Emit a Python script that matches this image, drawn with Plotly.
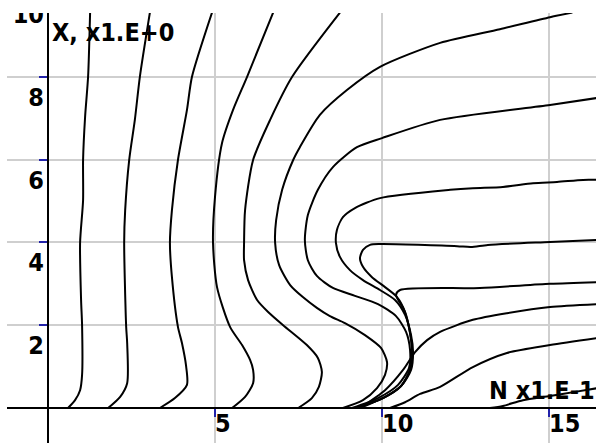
import plotly.graph_objects as go

# ---- trajectory family (N in units of 1e1, X in units of 1e0) ----
a_n = [0.60, 0.81, 0.96, 1.02, 1.02, 0.99, 0.96, 1.05, 1.05, 1.11, 1.20, 1.26]
a_x = [0.00, 0.19, 0.43, 0.80, 2.00, 2.61, 3.99, 5.02, 5.99, 7.03, 8.00, 9.55]

b_n = [1.80, 2.16, 2.37, 2.37, 2.34, 2.28, 2.31, 2.43, 2.60, 2.75, 3.05]
b_x = [0.00, 0.27, 0.60, 1.57, 1.96, 3.99, 4.78, 5.99, 6.96, 8.00, 9.55]

c_n = [3.35, 3.80, 4.16, 4.13, 4.01, 3.89, 3.71, 3.65, 3.71, 3.89, 4.16, 4.31, 4.91]
c_x = [0.00, 0.24, 0.56, 1.04, 1.57, 1.96, 3.16, 3.99, 4.78, 5.99, 7.20, 8.00, 9.55]

d_n = [5.51, 5.90, 6.14, 6.14, 6.05, 5.81, 5.45, 5.06, 4.94, 5.00, 5.21, 5.54, 5.96, 6.74]
d_x = [0.00, 0.27, 0.60, 0.92, 1.16, 1.52, 1.96, 2.92, 3.99, 5.10, 6.40, 7.20, 8.00, 9.55]

e_n = [7.49, 7.90, 8.11, 8.20, 8.08, 7.75, 7.04, 6.59, 6.26, 5.99, 5.87, 5.87, 5.90, 6.14,
       6.65, 7.31, 8.74]
e_x = [0.00, 0.24, 0.51, 0.87, 1.21, 1.52, 2.00, 2.32, 2.61, 3.09, 3.57, 3.99, 4.78, 5.99,
       6.96, 8.00, 9.55]

f_n = [8.83, 9.43, 9.85, 10.09, 10.15, 9.97, 9.49, 8.89, 8.44, 8.05, 7.63, 7.25, 6.92, 6.80,
       6.83, 7.01, 7.34, 7.54, 8.14, 8.95, 9.94, 11.74, 13.53, 15.03, 15.70]
f_x = [0.00, 0.19, 0.48, 0.80, 1.11, 1.45, 1.76, 2.05, 2.22, 2.42, 2.68, 2.97, 3.45, 3.99,
       4.54, 5.27, 5.99, 6.30, 7.08, 7.68, 8.24, 8.82, 9.15, 9.44, 9.55]

g_n = [16.45, 15.03, 11.74, 10.00, 9.25, 8.53, 8.08, 7.78, 7.69, 7.78, 8.05, 8.53, 9.19, 9.88,
       10.42, 10.72, 10.84, 10.81, 10.48, 9.88, 9.10]
g_x = [7.49, 7.32, 6.96, 6.52, 6.30, 5.82, 5.27, 4.66, 4.06, 3.57, 3.19, 2.90, 2.71, 2.51,
       2.22, 1.84, 1.40, 0.97, 0.56, 0.24, 0.00]

h_n = [16.45, 16.02, 15.24, 14.52, 13.62, 12.72, 12.04, 9.94, 9.19, 8.83, 8.65, 8.62, 8.74,
       9.04, 9.43, 9.94, 10.39, 10.69, 10.87, 10.93, 10.87, 10.60, 10.09, 9.34]
h_x = [5.51, 5.51, 5.46, 5.43, 5.34, 5.31, 5.27, 5.07, 4.83, 4.61, 4.30, 3.99, 3.65,
       3.33, 3.09, 2.85, 2.61, 2.25, 1.76, 1.35, 0.92, 0.56, 0.27, 0.00]

i_n = [16.45, 15.03, 13.17, 12.66, 12.25, 9.94, 9.64, 9.43, 9.34, 9.43, 9.70, 10.09, 10.45,
       10.69, 10.84, 10.90, 10.84, 10.57, 10.03, 9.22]
i_x = [4.06, 4.01, 3.94, 3.89, 3.91, 3.96, 3.94, 3.82, 3.62, 3.41, 3.16, 2.92, 2.68,
       2.32, 1.81, 1.35, 0.92, 0.53, 0.24, 0.00]

j_n = [16.45, 15.03, 12.93, 10.54, 10.42, 10.66, 10.84, 10.90, 10.84, 10.57, 10.03, 9.19]
j_x = [3.04, 3.00, 2.90, 2.85, 2.73, 2.37, 1.81, 1.35, 0.92, 0.53, 0.24, 0.00]

k_n = [9.34, 10.09, 10.63, 10.99, 11.35, 11.74, 12.72, 13.74, 15.03, 16.45]
k_x = [0.00, 0.43, 0.92, 1.35, 1.64, 1.84, 2.13, 2.29, 2.44, 2.51]

l_n = [10.24, 10.69, 11.14, 11.74, 12.72, 13.74, 15.03, 16.45]
l_x = [0.00, 0.14, 0.34, 0.51, 0.99, 1.33, 1.52, 1.69]

m_n = [13.23, 13.62, 14.22, 15.03, 15.78, 16.45]
m_x = [0.00, 0.05, 0.19, 0.29, 0.39, 0.48]

curves = [(a_n, a_x), (b_n, b_x), (c_n, c_x), (d_n, d_x), (e_n, e_x), (f_n, f_x),
          (g_n, g_x), (h_n, h_x), (i_n, i_x), (j_n, j_x), (k_n, k_x), (l_n, l_x),
          (m_n, m_x)]

# ---- axes ----
x_ticks = [5, 10, 15]
y_ticks = [2, 4, 6, 8, 10]
x_range = [-1.228, 16.407]
y_range = [-0.845, 9.541]
x_title = "N x1.E-1"
y_title = "X, x1.E+0"

FONT = "DejaVu Sans Condensed, DejaVu Sans, sans-serif"
FSIZE = 25
INK = "#000000"
TICK_BLUE = "#2222aa"
GRID = "#cfcfcf"

fig = go.Figure()

for n, x in curves:
    fig.add_trace(go.Scatter(x=n, y=x, mode="lines",
                             line=dict(color=INK, width=2, shape="spline", smoothing=0.7),
                             hoverinfo="skip", showlegend=False))

# tick labels sit just below each gridline / right of each tick
label_font = dict(family=FONT, size=FSIZE, color=INK, weight="bold")
fig.add_trace(go.Scatter(
    x=[-0.12] * len(y_ticks), y=[v - 0.55 for v in y_ticks],
    text=[str(v) for v in y_ticks], mode="text", textposition="middle left",
    textfont=label_font, cliponaxis=True, hoverinfo="skip", showlegend=False))
fig.add_trace(go.Scatter(
    x=list(x_ticks), y=[-0.44] * len(x_ticks),
    text=[str(v) for v in x_ticks], mode="text", textposition="middle right",
    textfont=label_font, cliponaxis=True, hoverinfo="skip", showlegend=False))

fig.add_annotation(x=0.06, y=9.08, xref="x", yref="y", text=y_title,
                   showarrow=False, xanchor="left", yanchor="middle", font=label_font)
fig.add_annotation(x=13.14, y=0.43, xref="x", yref="y", text=x_title,
                   showarrow=False, xanchor="left", yanchor="middle", font=label_font)

x_pos = (0 - y_range[0]) / (y_range[1] - y_range[0])
y_pos = (0 - x_range[0]) / (x_range[1] - x_range[0])

fig.update_layout(
    width=596, height=443,
    margin=dict(l=7, r=0, t=13, b=0),
    paper_bgcolor="white", plot_bgcolor="white",
    xaxis=dict(range=x_range, tickvals=x_ticks, showticklabels=False,
               showgrid=True, gridcolor=GRID, gridwidth=2, zeroline=False,
               showline=True, linecolor=INK, linewidth=2,
               ticks="outside", ticklen=8, tickwidth=2, tickcolor=TICK_BLUE,
               anchor="free", position=x_pos),
    yaxis=dict(range=y_range, tickvals=y_ticks[:-1], showticklabels=False,
               showgrid=True, gridcolor=GRID, gridwidth=2, zeroline=False,
               showline=True, linecolor=INK, linewidth=2,
               ticks="outside", ticklen=8, tickwidth=2, tickcolor=TICK_BLUE,
               anchor="free", position=y_pos),
)

fig.write_html("out.html")
